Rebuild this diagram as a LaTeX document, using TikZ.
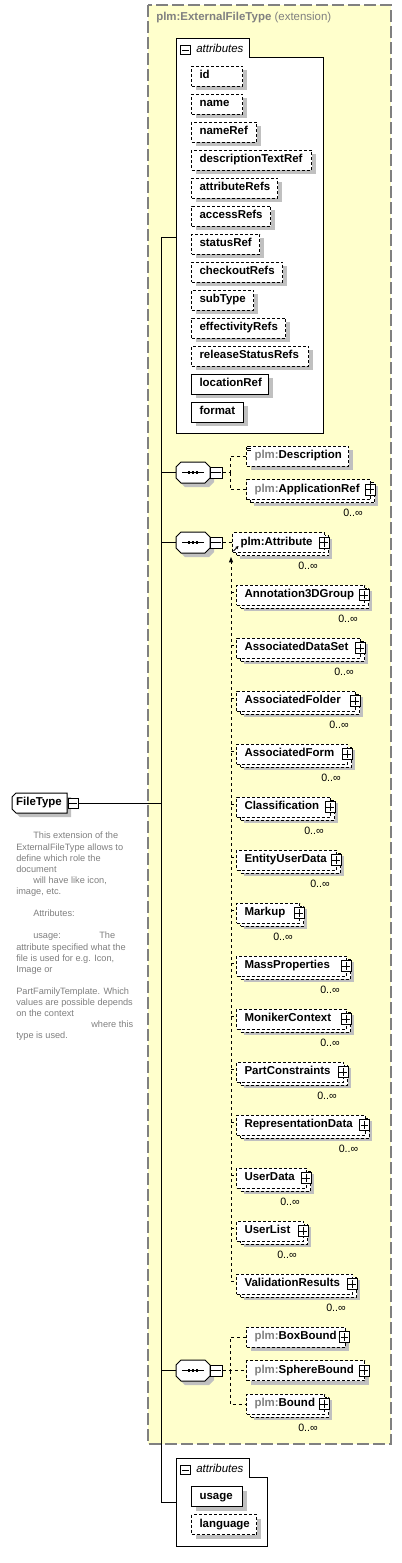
\documentclass[tikz,border=0pt]{standalone}
\usepackage{fontspec}
\setmainfont{Liberation Sans}
\usetikzlibrary{shadows,arrows.meta}
\definecolor{ybg}{RGB}{255,255,204}
\definecolor{yborder}{RGB}{128,128,128}
\definecolor{shadowc}{RGB}{192,192,192}
\definecolor{plmgray}{RGB}{128,128,128}
\definecolor{docgray}{RGB}{128,128,128}
\newcommand\pfx{\textcolor{plmgray}{plm:}}
\newcommand\elem[6]{\pgfmathsetmacro\tw{(#4-16)*0.75}\node[#5] (#1) at (#2,#3) {\makebox[\tw pt][l]{#6}};}
\newcommand\plusbox[3]{\node[pm] (#1) at (#2,#3) {};\draw[line width=0.6pt] ([xshift=1.4pt]#1.west) -- ([xshift=-1.4pt]#1.east);\draw[line width=0.6pt] ([yshift=-1.4pt]#1.north) -- ([yshift=1.4pt]#1.south);}
\newcommand\minusbox[5]{\node[pm, minimum width=#4, minimum height=#5] (#1) at (#2,#3) {};\draw[line width=0.6pt] ([xshift=1.4pt]#1.west) -- ([xshift=-1.4pt]#1.east);}
\newcommand\octpath[2]{({181+#1},{#2-10.5}) -- ({205+#1},{#2-10.5}) -- ({210+#1},{#2-5.5}) -- ({210+#1},{#2+5.5}) -- ({205+#1},{#2+10.5}) -- ({181+#1},{#2+10.5}) -- ({176+#1},{#2+5.5}) -- ({176+#1},{#2-5.5}) -- cycle}
\newcommand\seqnode[2]{%
 \pgfmathsetmacro\ys{#2+4}%
 \fill[shadowc] \octpath{4}{\ys};
 \draw[line width=0.75pt, fill=white] \octpath{0}{#2};
 \node[inner sep=0pt, minimum width=25.5pt, minimum height=15.75pt] (#1) at (193,#2) {};
 \draw[line width=0.75pt] ([xshift=-8.25pt]#1.center) -- ([xshift=8.25pt]#1.center);
 \foreach \dx in {-2.9,0,2.9} \fill ([shift={(\dx pt-1pt,-1pt)}]#1.center) rectangle +(2pt,2pt);
 \minusbox{#1m}{216}{#2}{9pt}{8.25pt}}
\tikzset{
 every node/.style={font=\fontsize{8.6}{10}\selectfont},
 box/.style={draw=black, line width=0.75pt, fill=white, inner xsep=6pt, inner ysep=0pt, minimum height=15pt, text height=6.2pt, text depth=1.8pt, font=\fontsize{8.6}{10}\selectfont\bfseries, anchor=west},
 opt/.style={box, dash pattern=on 2.25pt off 1.5pt},
 req/.style={box},
 shad/.style={drop shadow={shadow xshift=3pt, shadow yshift=-3pt, fill=shadowc, opacity=1}},
 multi/.style={general shadow={shadow xshift=5.25pt, shadow yshift=-4.5pt, fill=shadowc, draw=none, opacity=1}, general shadow={shadow xshift=3pt, shadow yshift=-2.25pt, fill=white, draw=black, line width=0.75pt, dash pattern=on 2.25pt off 1.5pt}},
 pm/.style={draw=black, fill=white, line width=0.75pt, minimum width=7.5pt, minimum height=8.25pt, inner sep=0pt, drop shadow={shadow xshift=0.6pt, shadow yshift=-0.6pt, fill=black, opacity=1}},
 occ/.style={font=\fontsize{8}{10}\selectfont, inner sep=0pt},
 conn/.style={line width=0.75pt, dash pattern=on 2.25pt off 2.25pt},
 trunk/.style={line width=0.75pt},
}
\begin{document}
\begin{tikzpicture}[x=0.75pt,y=-0.75pt]
\useasboundingbox (0,0) rectangle (401,1563);
\fill[white] (0,0) rectangle (401,1563);
% extension container
\draw[fill=ybg, draw=yborder, line width=1.1pt, dash pattern=on 9pt off 3pt] (148,5) rectangle (391,1444);
\node[anchor=west, inner sep=0pt, text=plmgray] (title) at (156,18) {\textbf{plm:ExternalFileType} (extension)};
% attributes container (top)
\draw[line width=0.75pt, fill=white] (176,38) -- (249,38) -- (249,57) -- (323,57) -- (323,433) -- (176,433) -- cycle;
\minusbox{atm}{185.5}{50}{7pt}{6.5pt}
\node[anchor=west, inner sep=0pt, font=\fontsize{8.6}{10}\selectfont\itshape] (attl) at (196,48.5) {attributes};
\foreach \nm/\bw [count=\i from 0] in {id/51,name/51,nameRef/65,descriptionTextRef/120,attributeRefs/86,accessRefs/79,statusRef/68,checkoutRefs/91,subType/62,effectivityRefs/94,releaseStatusRefs/117}{
  \pgfmathsetmacro\yc{76+28*\i}
  \elem{a\i}{191}{\yc}{\bw}{opt,shad}{\nm}
}
\elem{a11}{191}{384}{77}{req,shad}{locationRef}
\elem{a12}{191}{412}{52}{req,shad}{format}
% FileType
\fill[shadowc] (20,797) -- (71,797) -- (71,817) -- (20,817) -- (16,813) -- (16,801) -- cycle;
\draw[line width=0.75pt, fill=white] (16,793) -- (67,793) -- (67,813) -- (16,813) -- (12,809) -- (12,797) -- cycle;
\node[inner sep=0pt, minimum width=41.25pt, minimum height=15pt, font=\fontsize{8.6}{10}\selectfont\bfseries] (ft) at (39,803) {FileType};
\minusbox{ftm}{73}{803.5}{7.5pt}{7.5pt}
\node[anchor=north west, inner sep=0pt, align=left, font=\fontsize{6.9}{8.33}\selectfont, text=docgray] (doc) at (16,832) {%
\hspace*{12.75pt}This extension of the\\
ExternalFileType allows to\\
define which role the\\
document\\
\hspace*{12.75pt}will have like icon,\\
image, etc.\\[8.33pt]
\hspace*{12.75pt}Attributes:\\[8.33pt]
\makebox[62.25pt][l]{\hspace*{12.75pt}usage:}The\\
attribute specified what the\\
file is used for e.g. Icon,\\
Image or\\[8.33pt]
PartFamilyTemplate. Which\\
values are possible depends\\
on the context\\
\hspace*{56.25pt}where this\\
type is used.};
% trunk
\coordinate (tr0) at (161,237);
\coordinate (attrL) at (176,237);
\coordinate (trf) at (161,803.5);
\coordinate (tr1) at (161,472.5);
\coordinate (tr2) at (161,542.5);
\coordinate (tr3) at (161,1370.5);
\coordinate (tr4) at (161,1502);
\coordinate (attrL2) at (176,1502);
\draw[trunk] (tr0) -- (tr4);
\draw[trunk] (tr0) -- (attrL);
\draw[trunk] (tr4) -- (attrL2);
\draw[trunk] (ftm.east) -- (trf);
% sequence 1
\seqnode{seq1}{472.5}
\draw[trunk] (tr1) -- (seq1.west);
\elem{desc}{246}{456}{102}{opt,shad}{\pfx Description}
\draw[line width=0.5pt] (247,446.5) -- (251,446.5) (247,448.5) -- (251,448.5) (247,450.5) -- (251,450.5);
\elem{appref}{246}{489.5}{124}{opt,multi}{\pfx ApplicationRef}
\plusbox{apprefp}{370}{489.5}
\node[occ] (apprefo) at (353,513) {0..∞};
\coordinate (c1) at (230,472.5);
\draw[conn] (seq1m.east) -- (c1);
\draw[conn] (desc.west) -| (c1);
\draw[conn] (c1) |- (appref.west);
% sequence 2
\seqnode{seq2}{542.5}
\draw[trunk] (tr2) -- (seq2.west);
\elem{pa}{232}{542.5}{92}{opt,multi}{plm:Attribute}
\plusbox{pap}{324}{542.5}
\node[occ] (pao) at (308,566) {0..∞};
\draw[conn] (seq2m.east) -- (pa.west);
\coordinate (subtop) at (231,557);
\foreach \nm/\xr [count=\i from 0] in {Annotation3DGroup/364,AssociatedDataSet/360,AssociatedFolder/355,AssociatedForm/347,Classification/330,EntityUserData/336,Markup/299,MassProperties/346,MonikerContext/346,PartConstraints/343,RepresentationData/364.5,UserData/306,UserList/303,ValidationResults/352}{
  \pgfmathsetmacro\yc{595+53*\i}
  \pgfmathsetmacro\bw{\xr-236}
  \elem{s\i}{236}{\yc}{\bw}{opt,multi}{\nm}
  \plusbox{s\i p}{\xr}{\yc}
  \node[occ] (s\i o) at ({\xr-16},{\yc+23.5}) {0..∞};
  \coordinate (sl\i) at (231,{\yc-3});
  \draw[conn] (sl\i) -- (sl\i -| s\i.west);
}
\draw[conn] ([yshift=-3pt]subtop) -- (sl13);
\fill (subtop) -- ++(-1.6pt,-4pt) -- ++(3.2pt,0pt) -- cycle;
\coordinate (pa1) at (233.5,551);
\coordinate (pa2) at (238.5,546);
\draw[line width=0.6pt, -{Stealth[length=2.4pt,width=2.4pt]}] (pa1) -- (pa2);
% sequence 3
\seqnode{seq3}{1370.5}
\draw[trunk] (tr3) -- (seq3.west);
\elem{boxb}{246}{1337}{98.5}{opt,shad}{\pfx BoxBound}
\plusbox{boxbp}{344.5}{1337}
\elem{sphb}{246}{1370.5}{118}{opt,shad}{\pfx SphereBound}
\plusbox{sphbp}{364}{1370.5}
\elem{bnd}{246}{1404}{78}{opt,multi}{\pfx Bound}
\plusbox{bndp}{324}{1404}
\node[occ] (bndo) at (308,1427.5) {0..∞};
\coordinate (c3) at (230,1370.5);
\draw[conn] (seq3m.east) -- (sphb.west);
\draw[conn] (boxb.west) -| (c3);
\draw[conn] (c3) |- (bnd.west);
% attributes container (bottom)
\draw[line width=0.75pt, fill=white] (176,1458) -- (249,1458) -- (249,1477) -- (267,1477) -- (267,1546) -- (176,1546) -- cycle;
\minusbox{abm}{185.5}{1470}{7pt}{6.5pt}
\node[anchor=west, inner sep=0pt, font=\fontsize{8.6}{10}\selectfont\itshape] (attl2) at (196,1468.5) {attributes};
\elem{usage}{191}{1496.5}{51}{req,shad}{usage}
\elem{lang}{191}{1524.5}{65}{opt,shad}{language}
\end{tikzpicture}
\end{document}
